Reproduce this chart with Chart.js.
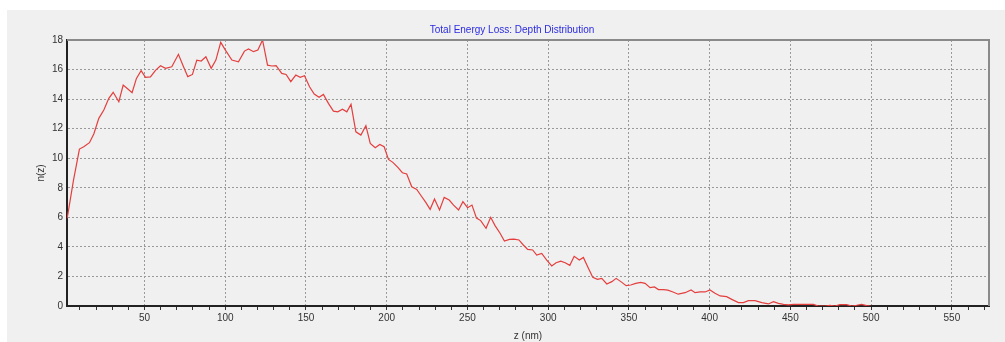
<!DOCTYPE html>
<html>
<head>
<meta charset="utf-8">
<script src="https://cdn.jsdelivr.net/npm/chart.js@4/dist/chart.umd.min.js"></script>
<style>
  html, body { margin: 0; padding: 0; background: #ffffff; width: 1005px; height: 342px; overflow: hidden; }
  #panel { position: absolute; left: 7px; top: 10px; width: 998px; height: 332px; background: #f0f0f0; }
  #c { display: block; }
</style>
</head>
<body>
<div id="panel"><canvas id="c" width="998" height="332"></canvas></div>
<script>
// ---- data ----
const depthNm = [
  2.1, 6.0, 9.7, 12.4, 15.9, 18.6, 21.7, 24.8, 27.9, 30.6,
  34.1, 36.8, 39.7, 42.3, 45.0, 47.9, 50.6, 53.7, 56.8, 59.9,
  63.0, 66.9, 71.0, 73.9, 76.8, 79.7, 82.4, 85.1, 88.0, 91.3,
  94.2, 97.2, 100.2, 104.1, 108.2, 111.9, 114.4, 117.5, 120.2, 123.1,
  126.2, 128.9, 131.5, 135.0, 137.7, 140.6, 143.7, 146.4, 149.1, 152.2,
  155.1, 158.1, 160.8, 163.9, 167.0, 169.7, 172.6, 175.3, 177.9, 180.9,
  184.0, 187.1, 189.8, 192.9, 195.7, 198.4, 201.1, 203.8, 206.9, 209.7,
  212.4, 215.5, 218.6, 221.3, 224.2, 226.9, 229.6, 232.7, 235.6, 238.7,
  241.4, 244.5, 247.2, 250.1, 252.8, 255.6, 258.2, 261.5, 264.4, 267.1,
  270.2, 272.9, 276.0, 278.8, 281.9, 284.6, 287.3, 290.4, 292.9, 296.0,
  299.1, 302.2, 304.9, 307.8, 310.5, 313.4, 316.1, 319.3, 321.8, 324.9,
  327.6, 330.5, 333.2, 336.3, 339.4, 342.1, 345.0, 348.3, 351.1, 354.2,
  357.3, 360.0, 363.1, 365.8, 368.3, 371.4, 374.1, 377.3, 380.5, 384.8,
  388.5, 391.0, 394.1, 397.2, 400.2, 403.3, 406.5, 410.5, 413.7, 417.8,
  420.9, 424.0, 428.1, 432.3, 436.4, 439.5, 442.6, 445.7, 448.8, 451.8,
  456.0, 460.1, 464.2, 467.3, 471.4, 474.5, 477.6, 480.7, 484.8, 487.9,
  491.0, 494.1, 497.2, 499.6
];
const nz = [
  5.93, 8.5, 10.62, 10.78, 11.05, 11.64, 12.7, 13.26, 14.05, 14.46,
  13.82, 14.95, 14.68, 14.44, 15.4, 15.92, 15.47, 15.5, 15.95, 16.26,
  16.08, 16.19, 17.03, 16.26, 15.52, 15.67, 16.64, 16.58, 16.87, 16.08,
  16.64, 17.84, 17.3, 16.64, 16.53, 17.25, 17.39, 17.21, 17.32, 18.0,
  16.3, 16.24, 16.26, 15.74, 15.67, 15.18, 15.63, 15.47, 15.58, 14.84,
  14.34, 14.12, 14.32, 13.71, 13.19, 13.14, 13.32, 13.14, 13.65, 11.79,
  11.57, 12.2, 11.0, 10.71, 10.93, 10.78, 9.92, 9.72, 9.38, 9.02,
  8.93, 8.07, 7.89, 7.46, 7.01, 6.54, 7.24, 6.5, 7.35, 7.17,
  6.83, 6.5, 7.06, 6.65, 6.83, 5.95, 5.78, 5.26, 6.0, 5.44,
  4.92, 4.4, 4.51, 4.53, 4.47, 4.13, 3.83, 3.79, 3.45, 3.56,
  3.11, 2.71, 2.93, 3.04, 2.93, 2.75, 3.36, 3.11, 3.29, 2.55,
  1.94, 1.80, 1.87, 1.49, 1.65, 1.87, 1.65, 1.38, 1.42, 1.53,
  1.6, 1.53, 1.24, 1.29, 1.11, 1.11, 1.07, 0.95, 0.8, 0.9,
  1.08, 0.9, 0.95, 0.95, 1.08, 0.86, 0.68, 0.63, 0.45, 0.23,
  0.23, 0.36, 0.36, 0.23, 0.14, 0.29, 0.18, 0.11, 0.07, 0.11,
  0.11, 0.11, 0.11, 0, 0, 0.05, 0, 0.09, 0.09, 0,
  0.05, 0.11, 0.02, 0
];
const xMajorLabels = [50, 100, 150, 200, 250, 300, 350, 400, 450, 500, 550];
const yTickValues = [0, 2, 4, 6, 8, 10, 12, 14, 16, 18];
const chartTitle = 'Total Energy Loss: Depth Distribution';
const xTitle = 'z (nm)';
const yTitle = 'n(z)';

const points = depthNm.map((x, i) => ({ x: x, y: nz[i] }));
const FONT = "'Liberation Sans', Arial, sans-serif";

const frame = {
  id: 'frame',
  afterDraw(chart) {
    const a = chart.chartArea, ctx = chart.ctx;
    ctx.save();
    ctx.strokeStyle = '#8a8a8a';
    ctx.lineWidth = 2;
    ctx.beginPath();
    ctx.moveTo(a.left, a.top);
    ctx.lineTo(a.right, a.top);
    ctx.lineTo(a.right, a.bottom);
    ctx.stroke();
    ctx.restore();
  }
};

new Chart(document.getElementById('c'), {
  type: 'line',
  data: {
    datasets: [{
      data: points,
      borderColor: 'rgb(228,62,62)',
      borderWidth: 1.2,
      pointRadius: 0,
      tension: 0,
      fill: false
    }]
  },
  options: {
    responsive: false,
    animation: false,
    layout: { padding: { left: 28, right: 16, top: 0, bottom: 0 } },
    plugins: {
      legend: { display: false },
      tooltip: { enabled: false },
      title: {
        display: true,
        text: chartTitle,
        color: '#2b2be0',
        font: { family: FONT, size: 10, weight: 'normal', lineHeight: 1.2 },
        padding: { top: 14, bottom: 4 }
      }
    },
    scales: {
      x: {
        type: 'linear',
        min: 2,
        max: 573,
        afterFit(s) { s.height = 36; },
        border: { display: true, color: '#222222', width: 2, dash: [2, 2] },
        grid: {
          color: (ctx) => (ctx.tick && xMajorLabels.includes(ctx.tick.value)) ? '#9a9a9a' : 'rgba(0,0,0,0)',
          lineWidth: 1,
          drawTicks: true,
          tickLength: 4,
          tickColor: '#333333',
          tickWidth: 1,
          tickBorderDash: []
        },
        ticks: {
          stepSize: 10,
          includeBounds: false,
          autoSkip: false,
          maxRotation: 0,
          padding: 2,
          color: '#333333',
          font: { family: FONT, size: 10 },
          callback: (v) => xMajorLabels.includes(v) ? String(v) : ''
        },
        title: {
          display: true,
          text: xTitle,
          color: '#333333',
          font: { family: FONT, size: 10 },
          padding: { top: 0, bottom: 0 }
        }
      },
      y: {
        min: yTickValues[0],
        max: yTickValues[yTickValues.length - 1],
        afterFit(s) { s.width = 32; },
        border: { display: true, color: '#222222', width: 2, dash: [2, 2] },
        grid: {
          color: '#9a9a9a',
          lineWidth: 1,
          drawTicks: false
        },
        ticks: {
          stepSize: 2,
          padding: 4,
          color: '#333333',
          font: { family: FONT, size: 10 }
        },
        title: {
          display: true,
          text: yTitle,
          color: '#333333',
          font: { family: FONT, size: 10 },
          padding: { top: 0, bottom: 0 }
        }
      }
    }
  },
  plugins: [frame]
});
</script>
</body>
</html>
